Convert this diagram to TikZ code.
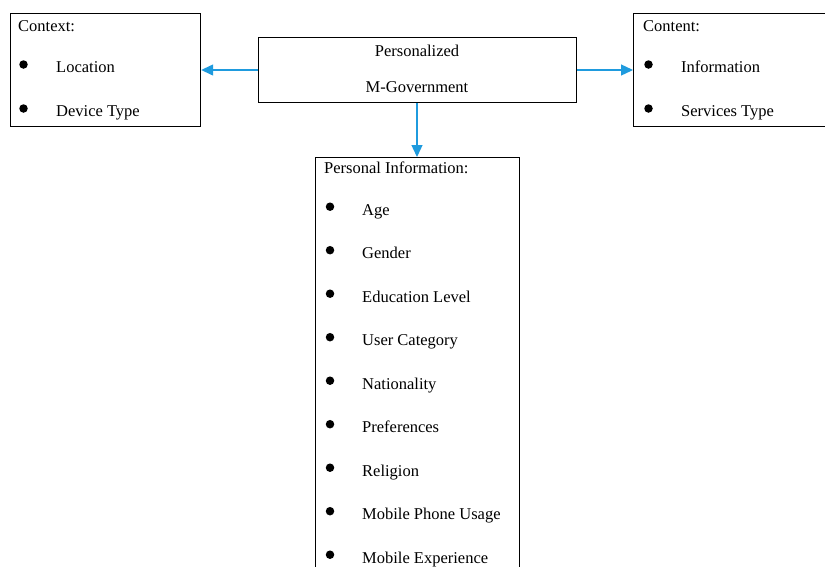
\documentclass[tikz,border=0pt]{standalone}
\usepackage{fontspec}
\setmainfont{Liberation Serif}
\usetikzlibrary{arrows.meta}
\definecolor{arrowblue}{HTML}{1F9BDE}
\tikzset{
  panel/.style={draw=black, line width=1.2pt, fill=white, inner sep=0pt, anchor=north west},
  label/.style={anchor=base west, inner sep=0pt, font=\fontsize{16.5}{18}\selectfont},
  ctext/.style={anchor=base, inner sep=0pt, font=\fontsize{16.5}{18}\selectfont},
  dot/.style={circle, fill=black, inner sep=0pt, minimum size=8.5pt},
  link/.style={draw=arrowblue, line width=1.3pt, -{Triangle[length=12pt,width=11pt]}}
}
\begin{document}
\begin{tikzpicture}[x=1pt,y=-1pt]
\useasboundingbox (0,0) rectangle (825,566);
\clip (0,0) rectangle (825,566);
\fill[white] (0,0) rectangle (825,566);

% boxes
\node[panel, minimum width=190pt, minimum height=113pt] (ctx) at (10,13) {};
\node[panel, minimum width=318pt, minimum height=65pt] (core) at (258,37) {};
\node[panel, minimum width=200pt, minimum height=113pt] (cnt) at (633,13) {};
\node[panel, minimum width=204pt, minimum height=430pt] (pers) at (315,157) {};

% central box text
\node[ctext] (t1) at (417,56) {Personalized};
\node[ctext] (t2) at (417,92) {M-Government};

% context box
\node[label] (ctxh) at (18,31) {Context:};
\node[dot] (cb1) at (23.5,64.5) {};
\node[label] (ctx1) at (56,72.5) {Location};
\node[dot] (cb2) at (23.5,108.5) {};
\node[label] (ctx2) at (56,116.5) {Device Type};

% content box
\node[label] (cnth) at (643,31) {Content:};
\node[dot] (nb1) at (648.5,64.5) {};
\node[label] (cnt1) at (681,72.5) {Information};
\node[dot] (nb2) at (648.5,108.5) {};
\node[label] (cnt2) at (681,116.5) {Services Type};

% personal information box
\node[label] (persh) at (324,173.5) {Personal Information:};
\foreach \t [count=\i from 0] in {Age,Gender,Education Level,User Category,Nationality,Preferences,Religion,Mobile Phone Usage,Mobile Experience}{
  \node[dot] (pb\i) at (330,215-8.3+43.5*\i) {};
  \node[label] (p\i) at (362,215+43.5*\i) {\t};
}

% connectors
\coordinate (cl) at (core.west |- 0,70);
\coordinate (cr) at (core.east |- 0,70);
\draw[link] (cl) -- (cl -| ctx.east);
\draw[link] (cr) -- (cr -| cnt.west);
\coordinate (cd) at (417,0);
\draw[link] (cd |- core.south) -- (cd |- pers.north);
\end{tikzpicture}
\end{document}
